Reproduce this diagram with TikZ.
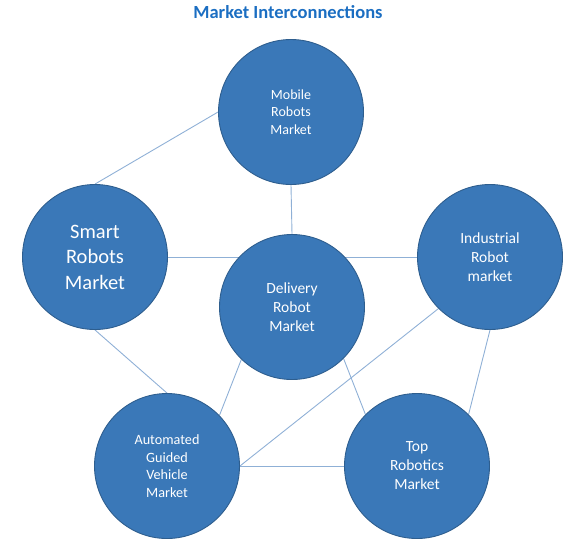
\documentclass[tikz,border=0pt]{standalone}
\usepackage{fontspec}
\setmainfont{Carlito}
\usetikzlibrary{backgrounds}
\definecolor{cfill}{HTML}{3A78B8}
\definecolor{cdraw}{HTML}{2E5E8E}
\definecolor{cline}{HTML}{8FB0D6}
\definecolor{ctitle}{HTML}{1B6EC2}
\begin{document}
\begin{tikzpicture}[x=1pt,y=1pt,
  market/.style={circle,fill=cfill,draw=cdraw,line width=0.9pt,minimum size=145pt,inner sep=0pt,text=white,align=center},
  link/.style={draw=cline,line width=0.9pt}]
\useasboundingbox (0,0) rectangle (580,-547);
\node[font=\bfseries\fontsize{18.5}{22}\selectfont,text=ctitle] (title) at (288,-12) {Market Interconnections};
\node[market,font=\fontsize{14}{17.5}\selectfont] (mob) at (291,-112) {Mobile\\Robots\\Market};
\node[market,font=\fontsize{20.5}{25.5}\selectfont] (smart) at (95,-257) {Smart\\Robots\\Market};
\node[market,font=\fontsize{15.5}{19}\selectfont] (del) at (292,-307) {Delivery\\Robot\\Market};
\node[market,font=\fontsize{15.5}{19}\selectfont] (ind) at (490,-257) {Industrial\\Robot\\market};
\node[market,font=\fontsize{14.2}{17.6}\selectfont] (agv) at (167,-466) {Automated\\Guided\\Vehicle\\Market};
\node[market,font=\fontsize{15.5}{19}\selectfont] (top) at (417,-466) {Top\\Robotics\\Market};
\begin{scope}[on background layer]
\path[link] (mob.west) -- (smart.north);
\path[link] (mob.south) -- (del.north);
\path[link] (smart.east) -- (ind.west);
\path[link] (smart.south) -- (agv.north);
\path[link] (del.226) -- (agv.44);
\path[link] (del.-45) -- (top.135);
\path[link] (ind.225) -- (agv.east);
\path[link] (ind.south) -- (top.45);
\path[link] (agv.east) -- (top.west);
\end{scope}
\end{tikzpicture}
\end{document}
